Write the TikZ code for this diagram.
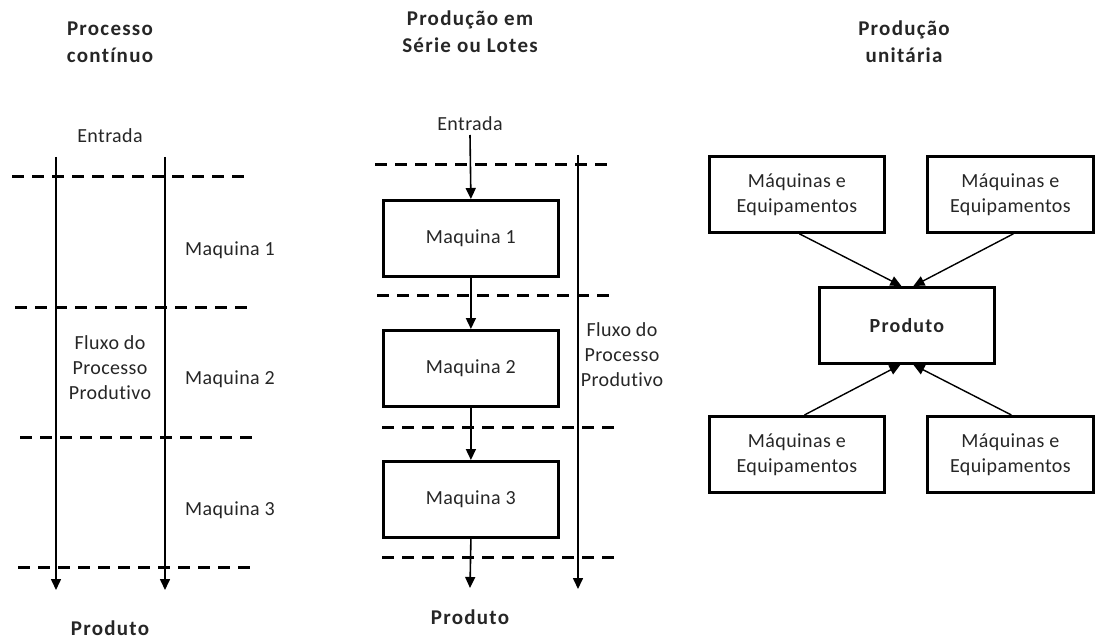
\documentclass[tikz,border=0pt]{standalone}
\usepackage{fontspec}
\setmainfont{Carlito}
\usetikzlibrary{arrows.meta}
\newfontfamily\bodyf[LetterSpace=2,Ligatures=NoCommon]{Carlito}
\newfontfamily\ttlf[LetterSpace=6,Ligatures=NoCommon]{Carlito}
\begin{document}
\begin{tikzpicture}[x=1pt,y=-1pt,
  txt/.style={font=\bodyf\fontsize{20}{25}\selectfont, text=black!85, align=center, inner sep=0pt},
  ttl/.style={txt, font=\ttlf\fontsize{21}{27}\selectfont\bfseries},
  box/.style={draw, line width=2.8pt, minimum width=175pt, minimum height=76pt, inner sep=0pt, anchor=north west, font=\bodyf\fontsize{20}{25}\selectfont, text=black!85, align=center},
  dsh/.style={line width=3pt, dash pattern=on 12pt off 8pt},
  flow/.style={line width=1.6pt, -{Triangle[length=11pt,width=10pt]}},
  con/.style={line width=1.4pt, -{Triangle[length=11pt,width=10pt]}}
]
\useasboundingbox (0,0) rectangle (1095,639);

% ---------- Left panel ----------
\node[ttl] (t1) at (110,42) {Processo\\contínuo};
\node[txt] (e1) at (110,136) {Entrada};
\coordinate (l1a) at (56,157);  \coordinate (l1b) at (56,590);
\coordinate (l2a) at (165,157); \coordinate (l2b) at (165,590);
\draw[flow] (l1a) -- (l1b);
\draw[flow] (l2a) -- (l2b);
\coordinate (d1a) at (12,177);  \coordinate (d1b) at (245,177);
\coordinate (d2a) at (15,307);  \coordinate (d2b) at (248,307);
\coordinate (d3a) at (20,437);  \coordinate (d3b) at (255,437);
\coordinate (d4a) at (18,567);  \coordinate (d4b) at (253,567);
\draw[dsh] (d1a) -- (d1b);
\draw[dsh] (d2a) -- (d2b);
\draw[dsh] (d3a) -- (d3b);
\draw[dsh] (d4a) -- (d4b);
\node[txt] (m1) at (230,250) {Maquina 1};
\node[txt] (m2) at (230,379) {Maquina 2};
\node[txt] (m3) at (230,510) {Maquina 3};
\node[txt] (f1) at (110,368) {Fluxo do\\Processo\\Produtivo};
\node[ttl] (p1) at (110,628) {Produto};

% ---------- Middle panel ----------
\node[ttl] (t2) at (470,32) {Produção em\\Série ou Lotes};
\node[txt] (e2) at (470,124) {Entrada};
\node[box] (b1) at (382,199) {Maquina 1};
\node[box] (b2) at (382,329) {Maquina 2};
\node[box] (b3) at (382,460) {Maquina 3};
\node[ttl] (p2) at (470,617) {Produto};
\coordinate (eb) at (470,135);
\coordinate (pe) at (470,588);
\draw[flow] (eb) -- (b1.north);
\draw[flow] (b1.south) -- (b2.north);
\draw[flow] (b2.south) -- (b3.north);
\draw[flow] (b3.south) -- (pe);
\coordinate (v2a) at (578,155); \coordinate (v2b) at (578,589);
\draw[flow] (v2a) -- (v2b);
\coordinate (e1a) at (375,165); \coordinate (e1b) at (607,165);
\coordinate (e2a) at (377,295); \coordinate (e2b) at (610,295);
\coordinate (e3a) at (382,427); \coordinate (e3b) at (615,427);
\coordinate (e4a) at (382,557); \coordinate (e4b) at (615,557);
\draw[dsh] (e1a) -- (e1b);
\draw[dsh] (e2a) -- (e2b);
\draw[dsh] (e3a) -- (e3b);
\draw[dsh] (e4a) -- (e4b);
\node[txt] (f2) at (622,355) {Fluxo do\\Processo\\Produtivo};

% ---------- Right panel ----------
\node[ttl] (t3) at (904,42) {Produção\\unitária};
\node[box] (q1) at (708,155) {Máquinas e\\Equipamentos};
\node[box, minimum width=166pt] (q2) at (926,155) {Máquinas e\\Equipamentos};
\node[box, font=\ttlf\fontsize{20}{25}\selectfont\bfseries] (pr) at (818,286) {Produto};
\node[box] (q3) at (708,415) {Máquinas e\\Equipamentos};
\node[box, minimum width=166pt] (q4) at (926,415) {Máquinas e\\Equipamentos};
\draw[con] ([xshift=2.5pt]q1.south) -- ([xshift=-5.5pt]pr.north);
\draw[con] ([xshift=3pt]q2.south) -- ([xshift=6.5pt]pr.north);
\draw[con] ([xshift=7.5pt]q3.north) -- ([xshift=-6.5pt]pr.south);
\draw[con] ([xshift=1pt]q4.north) -- ([xshift=6.5pt]pr.south);
\end{tikzpicture}
\end{document}
